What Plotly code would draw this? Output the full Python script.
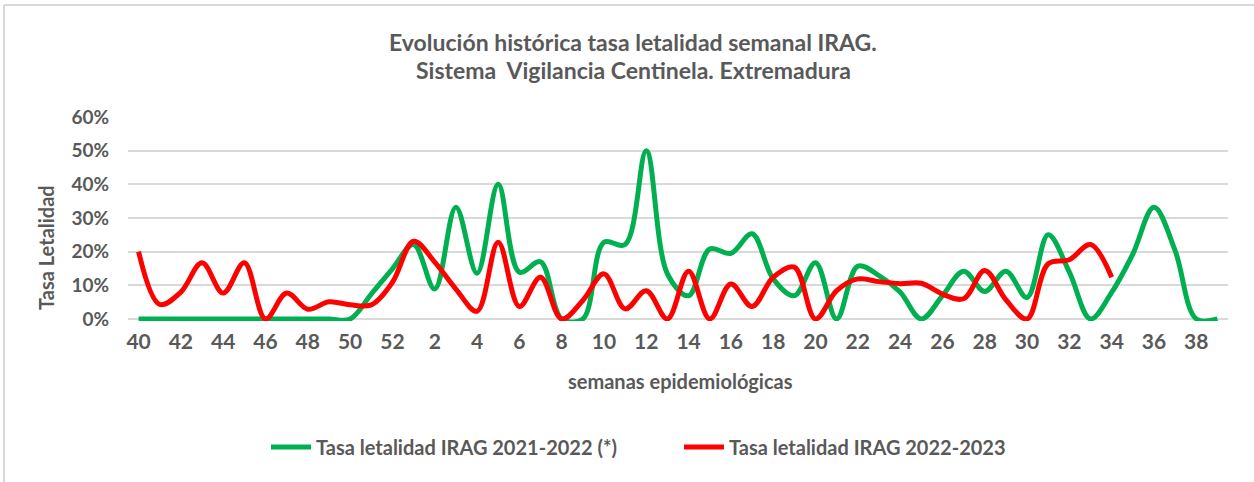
import plotly.graph_objects as go

# semanas epidemiológicas (40 a 52 y 1 a 39)
semanas = [str(s) for s in list(range(40, 53)) + list(range(1, 40))]

# tasa letalidad IRAG 2021-2022 (*), en %
tasa_2122 = [0, 0, 0, 0, 0, 0, 0, 0, 0, 0, 0, 7.4, 14.9,
             22.1, 8.9, 33.2, 13.6, 40, 13.9, 17, 0, 0, 22.8, 22.1, 50,
             13.4, 6.9, 20.8, 19.5, 25.3, 11.9, 6.9, 16.7, 0, 15.7, 12.9, 8,
             0, 6.9, 14.2, 8.2, 14.2, 6.4, 25, 13.9, 0, 7.9, 19.3, 33.2,
             20.3, 0, 0]

# tasa letalidad IRAG 2022-2023, en %
tasa_2223 = [20, 4.3, 8, 16.7, 7.7, 16.7, 0, 7.7, 2.9, 5.1, 4.2, 4.2, 10.9,
             23.1, 16.9, 8.9, 2.3, 22.8, 3.7, 12.4, 0, 5.5, 13.4, 3, 8.4,
             0, 14.2, 0, 10.4, 3.7, 12.4, 15.4, 0, 8.4, 11.9, 11.1, 10.5,
             10.6, 7.4, 6, 14.4, 5.7, 0, 16.4, 17.6, 22.1, 12.4]

GRIS = "#595959"
FUENTE = "Lato"

fig = go.Figure()
fig.add_trace(go.Scatter(
    x=semanas, y=[v / 100 for v in tasa_2122], mode="lines",
    name="Tasa letalidad IRAG 2021-2022 (*)",
    line=dict(color="#00B050", width=5, shape="spline", smoothing=1.0)))
fig.add_trace(go.Scatter(
    x=semanas[:len(tasa_2223)], y=[v / 100 for v in tasa_2223], mode="lines",
    name="Tasa letalidad IRAG 2022-2023",
    line=dict(color="#FF0000", width=5, shape="spline", smoothing=1.0)))


def py(p):
    # pixel vertical -> coordenada paper
    return (321 - p) / 204


def px_(p):
    return (p - 128) / 1100


fig.update_layout(
    width=1254, height=482,
    margin=dict(l=128, r=26, t=117, b=161),
    paper_bgcolor="white", plot_bgcolor="white",
    font=dict(family=FUENTE, color=GRIS, size=17, weight="bold"),
    showlegend=True,
    legend=dict(orientation="h", x=px_(266), xanchor="left", y=py(447), yanchor="middle",
                font=dict(size=20, family=FUENTE, color=GRIS, weight="bold"),
                itemwidth=40, entrywidth=358),
)

fig.update_xaxes(
    type="category", categoryorder="array", categoryarray=semanas,
    tickvals=semanas[::2], range=[-0.5, 51.5],
    showgrid=False, zeroline=False, showline=False, ticks="",
    tickfont=dict(size=21, family=FUENTE, color=GRIS, weight="bold"),
    ticklabelstandoff=6,
)
fig.update_yaxes(
    range=[-0.006, 0.6], tickvals=[0, 0.1, 0.2, 0.3, 0.4, 0.5, 0.6], tickformat=".0%",
    showgrid=True, gridcolor="#d9d9d9", gridwidth=1.5, zeroline=False, showline=False,
    ticks="", tickfont=dict(size=19, family=FUENTE, color=GRIS, weight="bold"),
    ticklabelstandoff=18,
)

anotaciones = [
    ("Evolución histórica tasa letalidad semanal IRAG.", 633, 42, 23, 0),
    ("Sistema  Vigilancia Centinela. Extremadura", 633, 70, 23, 0),
    ("semanas epidemiológicas", 680, 381, 20, 0),
    ("Tasa Letalidad", 46, 248, 20, -90),
]
for texto, x, y, tam, ang in anotaciones:
    fig.add_annotation(text=texto, x=px_(x), y=py(y), xref="paper", yref="paper",
                       showarrow=False, xanchor="center", yanchor="middle", textangle=ang,
                       font=dict(size=tam, family=FUENTE, color=GRIS, weight="bold"))

# borde del área del gráfico (izquierda y arriba)
fig.add_shape(type="line", xref="paper", yref="paper", x0=px_(4), x1=px_(4), y0=py(5), y1=py(482),
              line=dict(color="#d9d9d9", width=2))
fig.add_shape(type="line", xref="paper", yref="paper", x0=px_(4), x1=px_(1254), y0=py(5), y1=py(5),
              line=dict(color="#d9d9d9", width=2))

fig.write_html("out.html", config={"displayModeBar": False},
               post_script="document.body.style.margin='0px';")
